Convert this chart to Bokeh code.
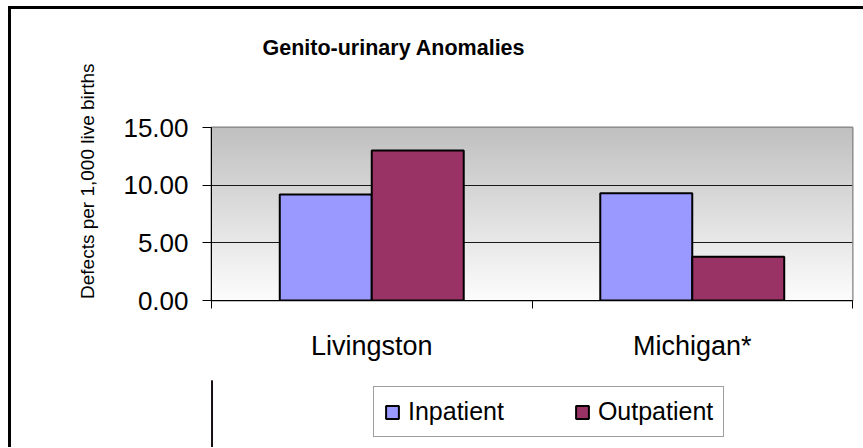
import numpy as np
from bokeh.plotting import figure
from bokeh.layouts import column
from bokeh.models import (ColumnDataSource, Range1d, FixedTicker, LinearAxis,
                          Legend, LegendItem, Title)
from bokeh.embed import file_html
from bokeh.resources import INLINE

# ---- data ----
categories = ["Livingston", "Michigan*"]
series = ["Inpatient", "Outpatient"]
inpatient = [9.2, 9.3]
outpatient = [13.0, 3.8]
y_ticks = [0, 5, 10, 15]
y_tick_labels = ["0.00", "5.00", "10.00", "15.00"]
title_text = "Genito-urinary Anomalies"
y_label = "Defects per 1,000 live births"

FONT = "Liberation Sans"
colors = ["#9999FF", "#993366"]
W = 852

# ---------- title strip ----------
ft = figure(width=W, height=52, x_range=Range1d(0, 1), y_range=Range1d(0, 1),
            output_backend="svg", toolbar_location=None, x_axis_location=None,
            y_axis_location=None, min_border_left=200, min_border_right=11,
            min_border_top=51, min_border_bottom=0)
ft.grid.visible = False
ft.outline_line_color = None
ft.background_fill_color = "white"
ft.border_fill_color = "white"
ft.title.text = title_text
ft.title.align = "left"
ft.title.offset = 51
ft.title.text_font = FONT
ft.title.text_font_size = "21.5px"
ft.title.text_font_style = "bold"
ft.title.text_color = "black"
ft.title.standoff = 1

# ---------- main chart ----------
ncat = len(categories)
p = figure(width=W, height=319, x_range=Range1d(0, ncat), y_range=Range1d(y_ticks[0], y_ticks[-1]),
           output_backend="svg", toolbar_location=None, x_axis_location=None,
           y_axis_location="left",
           min_border_left=200, min_border_right=11, min_border_top=66, min_border_bottom=80)
p.background_fill_color = "white"
p.border_fill_color = "white"
p.outline_line_color = "#808080"
p.outline_line_width = 2

# gradient background of plot area
N = 256
shade = np.linspace(253, 192, N).astype(np.uint8)
img = np.zeros((N, 1), dtype=np.uint32)
view = img.view(dtype=np.uint8).reshape((N, 1, 4))
view[:, 0, 0] = shade
view[:, 0, 1] = shade
view[:, 0, 2] = shade
view[:, 0, 3] = 255
p.image_rgba(image=[img], x=p.x_range.start, y=p.y_range.start,
             dw=p.x_range.end - p.x_range.start,
             dh=p.y_range.end - p.y_range.start, level="image")

# bars: category i occupies [i, i+1]
bw = 0.287
centers = np.arange(ncat) + 0.5
src = ColumnDataSource(dict(cat=categories, x_in=centers - bw / 2, x_out=centers + bw / 2,
                            inpatient=inpatient, outpatient=outpatient))
r1 = p.vbar(x="x_in", top="inpatient", bottom=0, width=bw,
            source=src, fill_color=colors[0], line_color="black", line_width=2)
r2 = p.vbar(x="x_out", top="outpatient", bottom=0, width=bw,
            source=src, fill_color=colors[1], line_color="black", line_width=2)

# grid
p.xgrid.visible = False
p.ygrid.ticker = FixedTicker(ticks=y_ticks[1:-1])
p.ygrid.grid_line_color = "#1a1a1a"
p.ygrid.grid_line_width = 1

# y axis
ya = p.yaxis[0]
ya.ticker = FixedTicker(ticks=y_ticks)
ya.major_label_overrides = dict(zip(y_ticks, y_tick_labels))
ya.major_tick_out = 9
ya.major_tick_in = 0
ya.minor_tick_line_color = None
ya.axis_line_color = "black"
ya.major_tick_line_color = "black"
ya.major_label_text_font = FONT
ya.major_label_text_font_size = "26px"
ya.major_label_text_color = "black"
ya.major_label_standoff = 14

# y label as a left title
ylab = Title(text=y_label, align="right", offset=-64, text_font=FONT, text_font_size="19px",
             text_font_style="normal", text_color="black", standoff=46)
p.add_layout(ylab, "left")

# x axes: boundary ticks, then category labels
bounds = list(range(ncat + 1))
tick_axis = LinearAxis(ticker=FixedTicker(ticks=bounds),
                       major_tick_out=8, major_tick_in=0, minor_tick_line_color=None,
                       major_label_text_font_size="0px", major_label_standoff=0,
                       axis_line_color="black", major_tick_line_color="black")
tick_axis.major_label_overrides = {b: "" for b in bounds}
cat_axis = LinearAxis(ticker=FixedTicker(ticks=list(centers)),
                      axis_line_color=None, major_tick_line_color=None,
                      minor_tick_line_color=None,
                      major_label_text_font=FONT, major_label_text_font_size="27px",
                      major_label_text_color="black", major_label_standoff=16)
cat_axis.major_label_overrides = {float(c): name for c, name in zip(centers, categories)}
p.add_layout(tick_axis, "below")
p.add_layout(cat_axis, "below")

# ---------- legend strip ----------
pl = figure(width=W, height=67, x_range=Range1d(0, 1), y_range=Range1d(0, 1),
            output_backend="svg", toolbar_location=None, x_axis_location=None,
            y_axis_location=None, min_border=0)
pl.grid.visible = False
pl.outline_line_color = None
pl.background_fill_color = "white"
pl.border_fill_color = "white"
# key glyphs: same data, drawn outside this strip's visible range (only their legend swatches show)
key_src = ColumnDataSource(dict(x=[-5.0] * ncat, inpatient=inpatient, outpatient=outpatient))
k1 = pl.vbar(x="x", top="inpatient", bottom=0, width=0.1, source=key_src,
             fill_color=colors[0], line_color="black", line_width=2)
k2 = pl.vbar(x="x", top="outpatient", bottom=0, width=0.1, source=key_src,
             fill_color=colors[1], line_color="black", line_width=2)
legend = Legend(items=[LegendItem(label=series[0], renderers=[k1]),
                       LegendItem(label=series[1], renderers=[k2])],
                orientation="horizontal", location=(162, 10),
                border_line_color="#404040", border_line_width=1,
                background_fill_color="white", background_fill_alpha=1,
                label_text_font=FONT, label_text_font_size="25px", label_text_color="black",
                glyph_width=16, glyph_height=16, label_standoff=8, spacing=70,
                padding=10, margin=0)
pl.add_layout(legend, "center")

layout = column(ft, p, pl, spacing=0)
layout.styles = {"margin-left": "8px", "margin-top": "6px",
                 "border-left": "3px solid black", "border-top": "3px solid black"}

open("out.html", "w").write(file_html(layout, INLINE))
